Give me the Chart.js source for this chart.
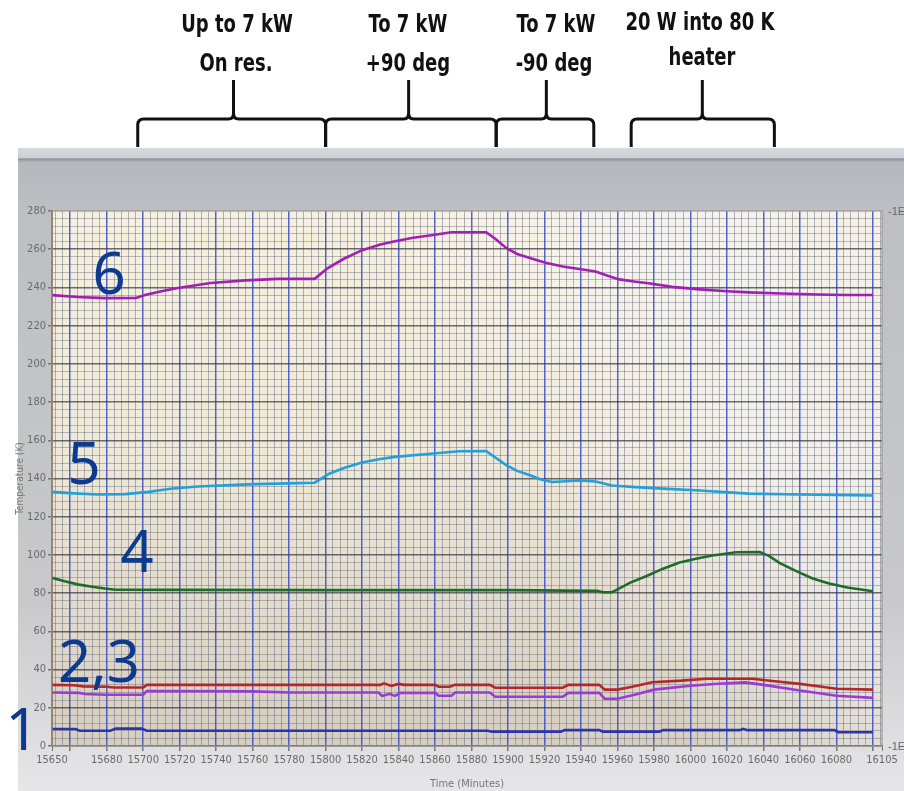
<!DOCTYPE html>
<html>
<head>
<meta charset="utf-8">
<script src="https://cdn.jsdelivr.net/npm/chart.js@4"></script>
<style>
  body { margin: 0; background: #ffffff; }
  #wrap { position: relative; width: 904px; height: 791px; overflow: hidden; }
  canvas { position: absolute; left: 0; top: 0; }
  .note {
    position: absolute; transform: translateX(-50%) scaleX(0.8);
    font: bold 25px "Liberation Sans Narrow", "DejaVu Sans Condensed", sans-serif;
    color: #111; white-space: nowrap; line-height: 1;
  }
  .tag {
    position: absolute; transform: translate(-50%, -50%);
    font: 58px "Noto Sans", "Open Sans", sans-serif;
    color: #0b3a8f; line-height: 1; white-space: nowrap;
  }
  .edge {
    position: absolute; font: 11px "Liberation Sans Narrow", sans-serif; color: #666;
  }
</style>
</head>
<body>
<div id="wrap">
  <canvas id="chart" width="904" height="791"></canvas>
  <div class="note" style="left:237px;top:11px">Up to 7 kW</div>
  <div class="note" style="left:236px;top:50px">On res.</div>
  <div class="note" style="left:408px;top:11px">To 7 kW</div>
  <div class="note" style="left:408px;top:50px">+90 deg</div>
  <div class="note" style="left:556px;top:11px">To 7 kW</div>
  <div class="note" style="left:554px;top:50px">-90 deg</div>
  <div class="note" style="left:700px;top:9px">20 W into 80 K</div>
  <div class="note" style="left:702px;top:44px">heater</div>
  <div class="tag" style="left:109px;top:272px">6</div>
  <div class="tag" style="left:84px;top:462px">5</div>
  <div class="tag" style="left:137px;top:550px">4</div>
  <div class="tag" style="left:99px;top:660px">2,3</div>
  <div class="tag" style="left:22px;top:728px">1</div>
  <div class="edge" style="left:888px;top:205px">-1E</div>
  <div class="edge" style="left:888px;top:740px">-1E</div>
</div>
<script>
// time in minutes, temperature in K
const series1 = [[15650,8.9],[15663,8.9],[15665,8],[15682,8],[15685,9.1],[15699,9.1],[15702,8],[15889,8],[15891,7.5],[15929,7.5],[15931,8.3],[15950,8.3],[15952,7.5],[15983,7.5],[15985,8.3],[16027,8.3],[16029,9],[16031,8.3],[16079,8.3],[16081,7.2],[16100,7.2]];
const series2 = [[15650,32],[15662,31.8],[15667,31.2],[15680,31],[15684,30.6],[15700,30.6],[15702,32],[15830,32],[15832,32.8],[15836,31.4],[15840,32.5],[15843,32],[15860,32],[15862,31],[15868,31],[15871,32],[15890,32],[15893,30.5],[15930,30.5],[15933,32],[15950,32],[15953,29.5],[15960,29.5],[15968,31],[15979,33.4],[15995,34.2],[16009,35.2],[16034,35.2],[16045,34],[16060,32.5],[16072,31],[16080,30],[16100,29.5]];
const series3 = [[15650,28],[15665,27.8],[15668,27.2],[15679,26.8],[15700,26.8],[15702,28.8],[15760,28.6],[15780,28],[15829,28],[15831,26.2],[15835,27.3],[15838,26.2],[15841,27.8],[15860,27.8],[15862,26.3],[15869,26.3],[15871,28],[15890,28],[15893,25.8],[15930,25.8],[15933,27.8],[15950,27.8],[15953,24.7],[15960,24.7],[15970,27],[15980,29.5],[16000,31.5],[16015,32.6],[16030,33.3],[16040,32],[16060,29],[16080,26.3],[16100,25.2]];
const series4 = [[15650,88],[15657,86.2],[15664,84.6],[15672,83.3],[15679,82.4],[15685,81.8],[15720,81.7],[15800,81.6],[15900,81.6],[15949,81.2],[15952,80.5],[15957,80.5],[15960,82],[15967,85.5],[15976,89],[15985,92.8],[15994,96],[16003,98],[16012,99.7],[16025,101.4],[16038,101.5],[16043,99.5],[16049,95.7],[16058,91.5],[16067,87.7],[16076,85],[16086,83],[16100,81]];
const series5 = [[15650,133],[15662,132.2],[15675,131.6],[15690,131.8],[15703,133],[15715,134.6],[15730,135.8],[15757,136.9],[15785,137.6],[15794,137.8],[15802,142.5],[15810,145.5],[15820,148.4],[15830,150.2],[15838,151.3],[15856,152.8],[15873,154.3],[15888,154.4],[15893,151],[15899,147],[15905,144],[15912,141.7],[15918,139.5],[15924,138.2],[15932,138.6],[15939,139],[15948,138.4],[15957,136.3],[15970,135.5],[15985,134.7],[16005,133.7],[16032,132.1],[16060,131.6],[16100,131.1]];
const series6 = [[15650,236],[15664,235],[15679,234.4],[15696,234.5],[15701,236],[15710,238],[15719,239.7],[15737,242.3],[15756,243.7],[15774,244.5],[15794,244.5],[15801,250],[15810,255],[15820,259.5],[15830,262.5],[15838,264.2],[15848,266],[15857,267.2],[15869,268.9],[15888,268.9],[15893,265.5],[15899,260.7],[15905,257.5],[15912,255.4],[15920,253],[15930,251],[15940,249.5],[15948,248.3],[15955,246],[15961,244.2],[15970,243],[15977,242.2],[15990,240.3],[16005,239],[16020,238],[16032,237.4],[16050,236.8],[16070,236.3],[16085,236],[16100,236]];

const seriesNames = ['1', '2', '3', '4', '5', '6'];
const seriesColors = ['#2b35a8', '#b3262a', '#9b3bd6', '#1f6b2b', '#22a0da', '#a21fb5'];

const xMin = 15650, xMax = 16105;
const xLabels = [15650, 15680, 15700, 15720, 15740, 15760, 15780, 15800, 15820, 15840, 15860, 15880, 15900, 15920, 15940, 15960, 15980, 16000, 16020, 16040, 16060, 16080, 16105];
const yMin = 0, yMax = 280;

// what each bracket over the chart covers (minutes): start, peak, end
const bracketStart = [15697, 15800, 15893.5, 15967.5];
const bracketPeak = [15749.5, 15845.5, 15921, 16006.5];
const bracketEnd = [15800, 15893.5, 15947, 16046];

const xTicks = [xMin];
for (let v = 15652; v < xMax; v += 4) xTicks.push(v);
xTicks.push(xMax);
const yTicks = [];
for (let v = yMin; v <= yMax; v += 4) yTicks.push(v);

const allSeries = [series1, series2, series3, series4, series5, series6];
const datasets = allSeries.map((s, i) => ({
    label: seriesNames[i],
    data: s.map(p => ({x: p[0], y: p[1]})),
    borderColor: seriesColors[i],
    borderWidth: 2.6,
    pointRadius: 0,
    tension: 0,
    fill: false
}));

const tickFont = {family: '"Liberation Sans Narrow", "DejaVu Sans Condensed", sans-serif', size: 11};

const backdrop = {
    id: 'backdrop',
    beforeDraw(chart) {
        const c = chart.ctx;
        const a = chart.chartArea;
        c.save();
        // screen window frame
        const g = c.createLinearGradient(0, 148, 0, 791);
        g.addColorStop(0, '#d6dae0');
        g.addColorStop(0.015, '#ccd0d6');
        g.addColorStop(0.017, '#8e9196');
        g.addColorStop(0.022, '#b4b7bc');
        g.addColorStop(0.1, '#bdbfc3');
        g.addColorStop(0.7, '#c9c9cb');
        g.addColorStop(1, '#e6e6e8');
        c.fillStyle = g;
        c.fillRect(18, 148, 886, 643);
        // plot paper
        const p = c.createLinearGradient(a.left, a.top, a.left, a.bottom);
        p.addColorStop(0, '#f6f0de');
        p.addColorStop(0.45, '#efe9d8');
        p.addColorStop(1, '#d6cfc1');
        c.fillStyle = p;
        c.fillRect(a.left, a.top, a.right - a.left, a.bottom - a.top);
        const h = c.createLinearGradient(a.left, a.bottom, a.right, a.top);
        h.addColorStop(0, 'rgba(255,255,255,0)');
        h.addColorStop(0.55, 'rgba(255,255,255,0)');
        h.addColorStop(0.8, 'rgba(242,245,250,0.55)');
        h.addColorStop(1, 'rgba(242,245,250,0.2)');
        c.fillStyle = h;
        c.fillRect(a.left, a.top, a.right - a.left, a.bottom - a.top);
        c.restore();
    },
    afterDraw(chart) {
        const c = chart.ctx;
        const a = chart.chartArea;
        const xs = chart.scales.x;
        c.save();
        c.strokeStyle = '#8c8c90';
        c.lineWidth = 1;
        c.strokeRect(a.left, a.top, a.right - a.left, a.bottom - a.top);
        // brackets above the screen
        c.strokeStyle = '#111';
        c.lineWidth = 3;
        c.lineJoin = 'round';
        const top = 119, foot = 147, tip = 80;
        bracketStart.forEach((s, i) => {
            const x0 = xs.getPixelForValue(s);
            const x1 = xs.getPixelForValue(bracketEnd[i]);
            const xp = xs.getPixelForValue(bracketPeak[i]);
            c.beginPath();
            c.moveTo(x0, foot);
            c.lineTo(x0, top + 6);
            c.quadraticCurveTo(x0, top, x0 + 6, top);
            c.lineTo(xp - 5, top);
            c.quadraticCurveTo(xp, top, xp, top - 6);
            c.lineTo(xp, tip);
            c.moveTo(xp, top - 6);
            c.quadraticCurveTo(xp, top, xp + 5, top);
            c.lineTo(x1 - 6, top);
            c.quadraticCurveTo(x1, top, x1, top + 6);
            c.lineTo(x1, foot);
            c.stroke();
        });
        c.restore();
    }
};

const chart = new Chart(document.getElementById('chart').getContext('2d'), {
    type: 'line',
    data: {datasets: datasets},
    plugins: [backdrop],
    options: {
        responsive: false,
        animation: false,
        layout: {padding: {left: 14, top: 211, right: 22, bottom: 0}},
        plugins: {legend: {display: false}, tooltip: {enabled: false}},
        scales: {
            x: {
                type: 'linear',
                min: xMin,
                max: xMax,
                afterBuildTicks: s => { s.ticks = xTicks.map(v => ({value: v})); },
                afterFit: s => { s.height = 45; },
                ticks: {
                    autoSkip: false, maxRotation: 0, minRotation: 0,
                    color: '#6a6a6a', font: tickFont, padding: 3,
                    callback: v => xLabels.includes(v) ? String(v) : ''
                },
                grid: {
                    color: ctx => {
                        const v = ctx.tick.value;
                        if (v === xMin || v === xMax) return 'rgba(0,0,0,0)';
                        return v % 20 === 0 ? 'rgba(45,65,200,0.8)' : 'rgba(95,95,120,0.45)';
                    },
                    lineWidth: ctx => ctx.tick.value % 20 === 0 ? 1.5 : 1,
                    tickColor: ctx => (ctx.tick.value % 20 === 0 || ctx.tick.value === xMin || ctx.tick.value === xMax) ? '#777' : 'rgba(0,0,0,0)',
                    tickLength: 5
                },
                border: {color: '#7a7268', width: 1.5},
                title: {display: true, text: 'Time (Minutes)', color: '#777', font: tickFont, padding: 0}
            },
            y: {
                min: yMin,
                max: yMax,
                afterBuildTicks: s => { s.ticks = yTicks.map(v => ({value: v})); },
                afterFit: s => { s.width = 38; },
                ticks: {
                    autoSkip: false, color: '#6a6a6a', font: tickFont, padding: 2,
                    callback: v => v % 20 === 0 ? String(v) : ''
                },
                grid: {
                    color: ctx => {
                        const v = ctx.tick.value;
                        if (v === yMin || v === yMax) return 'rgba(0,0,0,0)';
                        return v % 20 === 0 ? 'rgba(60,60,75,0.75)' : 'rgba(95,95,120,0.4)';
                    },
                    lineWidth: ctx => ctx.tick.value % 20 === 0 ? 1.5 : 1,
                    tickColor: ctx => ctx.tick.value % 20 === 0 ? '#777' : 'rgba(0,0,0,0)',
                    tickLength: 4
                },
                border: {color: '#9a8058', width: 2},
                title: {display: true, text: 'Temperature (K)', color: '#777', font: {family: tickFont.family, size: 10}, padding: 0}
            }
        }
    }
});
</script>
</body>
</html>
